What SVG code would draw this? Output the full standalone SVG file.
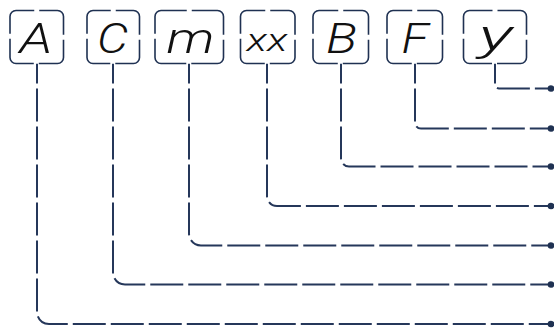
<svg xmlns="http://www.w3.org/2000/svg" width="554" height="332" viewBox="0 0 554 332">
<style>
.box{fill:#fff;stroke:#1f3152;stroke-width:1.6}
.lbl{font-family:Roboto,"Liberation Sans",sans-serif;font-style:italic;font-weight:300;font-size:43px;fill:#111;text-anchor:middle}
.sm{font-size:31px}
.con{fill:none;stroke:#25375a;stroke-width:2;stroke-dasharray:33 5;stroke-dashoffset:13}
.dot{fill:#1f3152}
</style>
<rect width="554" height="332" fill="#fff"/>
<g id="connectors">
<path class="con" d="M37 63.5V312A12 12 0 0 0 49 324H548"/>
<circle class="dot" cx="551" cy="324" r="3.3"/>
<path class="con" d="M113 63.5V272.5A12 12 0 0 0 125 284.5H548"/>
<circle class="dot" cx="551" cy="284.5" r="3.3"/>
<path class="con" d="M189 63.5V233.5A12 12 0 0 0 201 245.5H548"/>
<circle class="dot" cx="551" cy="245.5" r="3.3"/>
<path class="con" d="M267 63.5V196A10 10 0 0 0 277 206H548"/>
<circle class="dot" cx="551" cy="206" r="3.3"/>
<path class="con" d="M341 63.5V158.5A8 8 0 0 0 349 166.5H548"/>
<circle class="dot" cx="551" cy="166.5" r="3.3"/>
<path class="con" d="M415 63.5V122.5A6 6 0 0 0 421 128.5H548"/>
<circle class="dot" cx="551" cy="128.5" r="3.3"/>
<path class="con" d="M495 63.5V84.5A4 4 0 0 0 499 88.5H548"/>
<circle class="dot" cx="551" cy="88.5" r="3.3"/>
</g>
<g id="node-A">
<rect class="box" x="10" y="10.5" width="53.5" height="53" rx="6" stroke-dasharray="18.25 5 45.67 5 45.67 5 45.67 5 27.42 0"/>
<text class="lbl" x="36" y="53" textLength="33" lengthAdjust="spacingAndGlyphs">A</text>
</g>
<g id="node-C">
<rect class="box" x="87" y="10.5" width="52.5" height="53" rx="6" stroke-dasharray="17.75 5 45.17 5 45.17 5 45.17 5 27.42 0"/>
<text class="lbl" x="112.5" y="53" textLength="31" lengthAdjust="spacingAndGlyphs">C</text>
</g>
<g id="node-m">
<rect class="box" x="155" y="10.5" width="68.5" height="53" rx="6" stroke-dasharray="25.75 5 53.17 5 53.17 5 53.17 5 27.42 0"/>
<text class="lbl" x="190.5" y="52.5" textLength="48" lengthAdjust="spacingAndGlyphs">m</text>
</g>
<g id="node-xx">
<rect class="box" x="240.5" y="10.5" width="54.5" height="53" rx="6" stroke-dasharray="18.75 5 46.17 5 46.17 5 46.17 5 27.42 0"/>
<text class="lbl sm" x="267" y="51" textLength="41" lengthAdjust="spacingAndGlyphs">xx</text>
</g>
<g id="node-B">
<rect class="box" x="313" y="10.5" width="55.5" height="53" rx="6" stroke-dasharray="19.25 5 46.67 5 46.67 5 46.67 5 27.42 0"/>
<text class="lbl" x="341.5" y="52.5" textLength="31" lengthAdjust="spacingAndGlyphs">B</text>
</g>
<g id="node-F">
<rect class="box" x="387" y="10.5" width="55.5" height="53" rx="6" stroke-dasharray="19.25 5 46.67 5 46.67 5 46.67 5 27.42 0"/>
<text class="lbl" x="415" y="52.5" textLength="27" lengthAdjust="spacingAndGlyphs">F</text>
</g>
<g id="node-y">
<rect class="box" x="463.5" y="10.5" width="63" height="53" rx="6" stroke-dasharray="23 5 50.42 5 50.42 5 50.42 5 27.42 0"/>
<text class="lbl" x="495.5" y="50" textLength="34" lengthAdjust="spacingAndGlyphs">y</text>
</g>
</svg>
